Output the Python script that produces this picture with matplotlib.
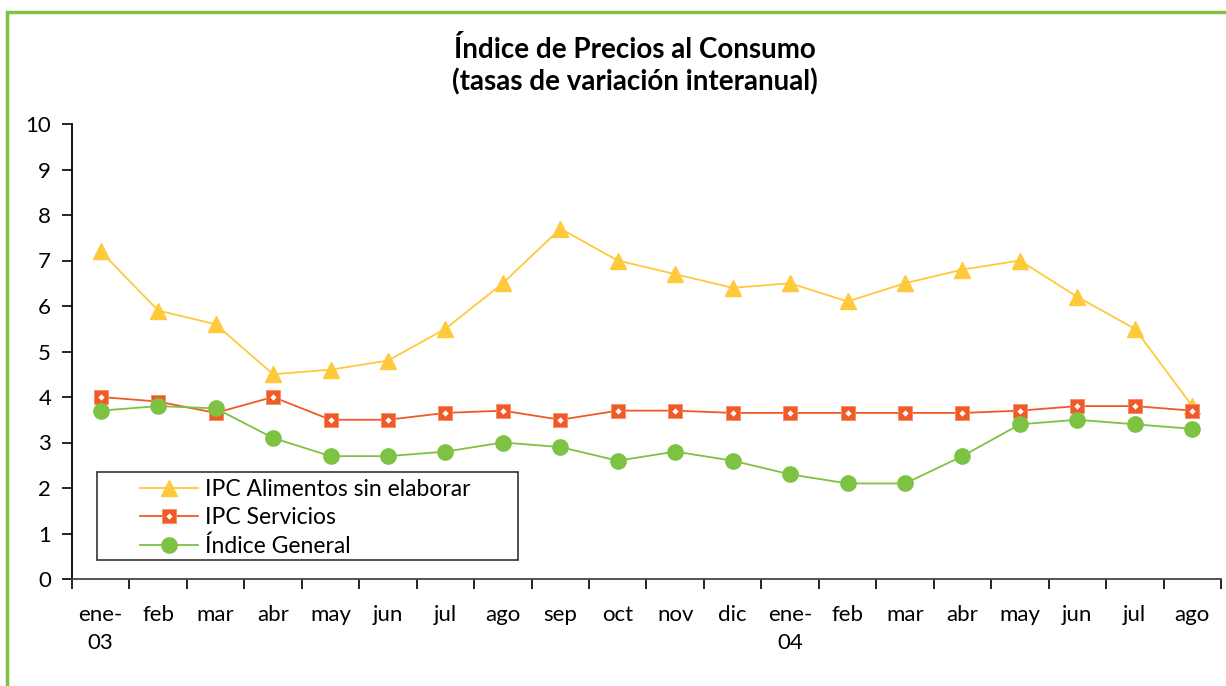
import matplotlib
matplotlib.use("Agg")
import matplotlib.pyplot as plt
from matplotlib.patches import Rectangle
import numpy as np

plt.rcParams['font.family'] = ['Lato', 'DejaVu Sans']

# data
meses = ["ene-\n03", "feb", "mar", "abr", "may", "jun", "jul", "ago", "sep", "oct",
         "nov", "dic", "ene-\n04", "feb", "mar", "abr", "may", "jun", "jul", "ago"]
alimentos = [7.2, 5.9, 5.6, 4.5, 4.6, 4.8, 5.5, 6.5, 7.7, 7.0,
             6.7, 6.4, 6.5, 6.1, 6.5, 6.8, 7.0, 6.2, 5.5, 3.8]
servicios = [4.0, 3.9, 3.65, 4.0, 3.5, 3.5, 3.65, 3.7, 3.5, 3.7,
             3.7, 3.65, 3.65, 3.65, 3.65, 3.65, 3.7, 3.8, 3.8, 3.7]
general = [3.7, 3.8, 3.75, 3.1, 2.7, 2.7, 2.8, 3.0, 2.9, 2.6,
           2.8, 2.6, 2.3, 2.1, 2.1, 2.7, 3.4, 3.5, 3.4, 3.3]
series_labels = ["IPC Alimentos sin elaborar", "IPC Servicios", "Índice General"]

amarillo = "#FFC93C"
rojo = "#F05A28"
verde = "#7DC242"

fig = plt.figure(figsize=(12.26, 6.86), dpi=100)
# green frame round the whole chart
fig.patches.append(Rectangle((7 / 1226, -0.05), 1.1, 1 - 12 / 686 + 0.05,
                             transform=fig.transFigure, fill=False,
                             edgecolor=verde, linewidth=2.5))

ax = fig.add_axes([72 / 1226, 1 - 579 / 686, (1221 - 72) / 1226, (579 - 124) / 686])
x = np.arange(len(meses))

l1, = ax.plot(x, alimentos, color=amarillo, linewidth=1.3, marker="^",
              markersize=11, markeredgecolor=amarillo)
l2, = ax.plot(x, servicios, color=rojo, linewidth=1.3, marker="s",
              markersize=10, markerfacecolor=rojo, markeredgecolor="#F58B66",
              markeredgewidth=0.6)
d2, = ax.plot(x, servicios, linestyle="none", marker="D", markersize=3,
              markerfacecolor="white", markeredgecolor="white", markeredgewidth=0.2)
l3, = ax.plot(x, general, color=verde, linewidth=1.3, marker="o",
              markersize=11, markeredgecolor=verde)

ax.set_xlim(-0.5, len(meses) - 0.5)
ax.set_ylim(0, 10)
ax.set_yticks(range(0, 11))
ax.tick_params(axis="y", direction="out", length=7, width=1.2, labelsize=16, pad=8)
ax.set_xticks(x)
ax.set_xticklabels(meses, fontsize=16, linespacing=1.45)
ax.set_xticks(np.arange(-0.5, len(meses)), minor=True)
ax.tick_params(axis="x", which="major", length=0, pad=19)
ax.tick_params(axis="x", which="minor", direction="out", length=7, width=1.2)
for s in ["top", "right"]:
    ax.spines[s].set_visible(False)
ax.spines["left"].set_linewidth(1.3)
ax.spines["bottom"].set_linewidth(1.3)
ax.spines["bottom"].set_color("#444444")

fig.text(0.5 + 22 / 1226, 1 - 50 / 686, "Índice de Precios al Consumo", ha="center",
         va="center", fontsize=20, fontweight="bold")
fig.text(0.5 + 22 / 1226, 1 - 82 / 686, "(tasas de variación interanual)", ha="center",
         va="center", fontsize=20, fontweight="bold")

# legend box is wider than the entries, so draw it apart
ax.add_patch(Rectangle((0.0218, 0.0418), 0.3664, 0.1934, transform=ax.transAxes,
                       fill=True, facecolor="white", edgecolor="#333333",
                       linewidth=1.2, zorder=4))
leg = ax.legend([l1, (l2, d2), l3], series_labels,
                loc="upper left", bbox_to_anchor=(0.0592, 0.219), fontsize=16.5,
                frameon=False, handlelength=2.55, labelspacing=0.3,
                borderpad=0, handletextpad=0.3, borderaxespad=0)
leg.set_zorder(5)

fig.savefig("out.png", dpi=100)
